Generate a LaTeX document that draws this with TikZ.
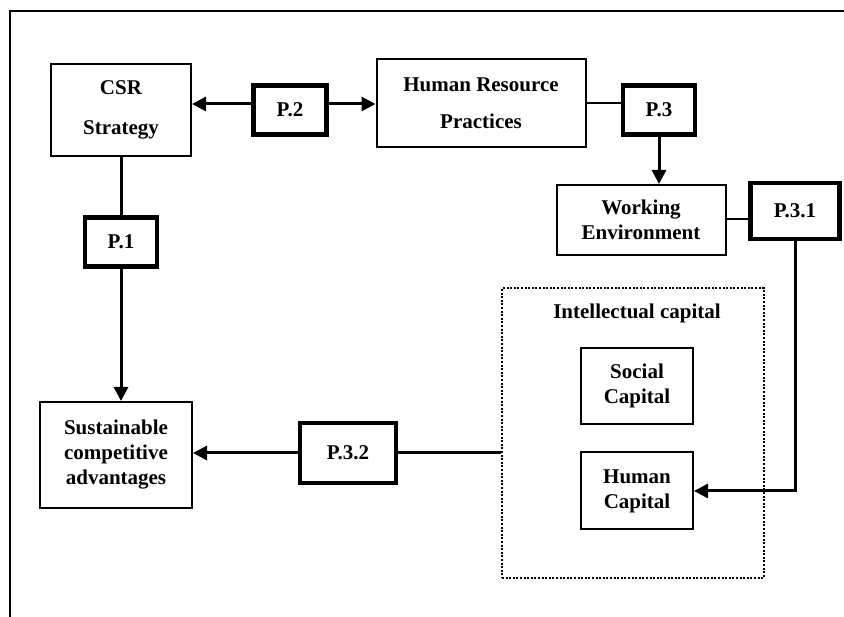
\documentclass[tikz,border=0pt]{standalone}
\usepackage{fontspec}
\setmainfont{Liberation Serif}
\usetikzlibrary{arrows.meta, positioning, calc}

\tikzset{
  box/.style={draw, line width=2pt, align=center, inner sep=0pt, font=\fontsize{21}{25}\selectfont\bfseries},
  pbox/.style={draw, line width=4.2pt, inner sep=0pt, font=\fontsize{21}{25}\selectfont\bfseries},
  icbox/.style={draw, line width=2pt, dash pattern=on 2pt off 1.6pt},
  link/.style={line width=3pt},
  thinlink/.style={line width=2pt},
  arr/.style={link, -{Triangle[length=14pt, width=14pt]}},
  frame/.style={line width=2.5pt},
}

\begin{document}
\begin{tikzpicture}[x=1pt, y=-1pt]
  \useasboundingbox (0,0) rectangle (844,617);
  % outer frame
  \draw[frame] (10,617) -- (10,11) -- (844,11);

  % top row
  \node[box, minimum width=140, minimum height=92] (csr) at (121,110) {CSR\\[15pt]Strategy};
  \node[pbox, minimum width=73, minimum height=49] (p2) at (290,110) {P.2};
  \node[box, minimum width=209, minimum height=88] (hr) at (481,103) {Human Resource\\[12pt]Practices};
  \node[pbox, minimum width=72, minimum height=49] (p3) at (659,110) {P.3};

  % working environment
  \node[box, minimum width=169, minimum height=70] (we) at (641,220) {Working\\Environment};
  \node[pbox, minimum width=89, minimum height=56] (p31) at (795,211) {P.3.1};

  % intellectual capital
  \node[icbox, minimum width=262, minimum height=289] (ic) at (633,433) {};
  \node[font=\fontsize{21}{25}\selectfont\bfseries] (ictitle) at (637,313) {Intellectual capital};
  \node[box, minimum width=112, minimum height=76] (sc) at (637,386) {Social\\Capital};
  \node[box, minimum width=112, minimum height=77] (hc) at (637,491) {Human\\Capital};

  % left column
  \node[pbox, minimum width=72, minimum height=49] (p1) at (121,242) {P.1};
  \node[box, minimum width=152, minimum height=106] (sca) at (116,455) {Sustainable\\competitive\\advantages};
  \node[pbox, minimum width=96, minimum height=60] (p32) at (348,453) {P.3.2};

  % connectors
  \coordinate (y2) at (0,104);
  \coordinate (y31) at (0,219);
  \draw[arr] (p2.west |- y2) -- (csr.east |- y2);
  \draw[arr] (p2.east |- y2) -- (hr.west |- y2);
  \draw[thinlink] (hr.east) -- (hr.east -| p3.west);
  \draw[arr] (p3.south) -- (p3.south |- we.north);
  \draw[thinlink] (we.east |- y31) -- (p31.west |- y31);
  \draw[arr] (p31.south) |- (hc.east);
  \draw[link] (csr.south -| p1) -- (p1.north);
  \draw[arr] (p1.south) -- (p1.south |- sca.north);
  \draw[link] (ic.west |- p32.east) -- (p32.east);
  \draw[arr] (p32.west) -- (p32.west -| sca.east);
\end{tikzpicture}
\end{document}
